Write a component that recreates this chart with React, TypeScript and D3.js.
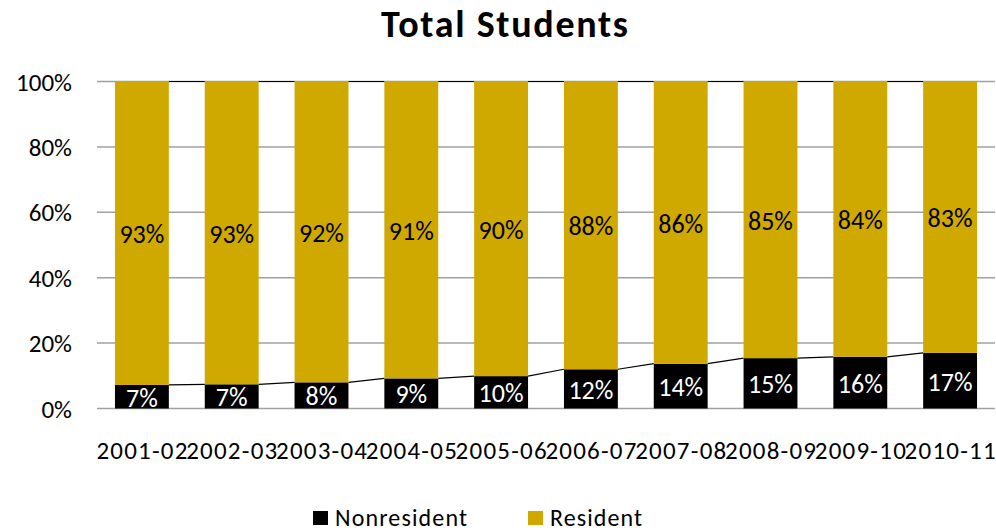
import React, { useEffect, useRef } from "react";
import * as d3 from "d3";

const years = ["2001-02", "2002-03", "2003-04", "2004-05", "2005-06", "2006-07", "2007-08", "2008-09", "2009-10", "2010-11"];
const nonresident = [7.2, 7.4, 8.0, 9.2, 9.9, 12.0, 13.7, 15.4, 15.8, 17.0];
const resident = [92.8, 92.6, 92.0, 90.8, 90.1, 88.0, 86.3, 84.6, 84.2, 83.0];
const yTicks = [0, 20, 40, 60, 80, 100];

const FONT = "Calibri, Carlito, Lato, sans-serif";
const GOLD = "#CFA800";

const App = () => {
  const svgRef = useRef<SVGSVGElement>(null);

  useEffect(() => {
    const w = 996;
    const h = 532;
    const svg = d3.select(svgRef.current).attr("width", w).attr("height", h);
    svg.selectAll("*").remove();

    // scales
    const x = d3.scaleBand().domain(years).range([97, 995]).paddingInner(0.4).paddingOuter(0.2);
    const y = d3.scaleLinear().domain([0, 100]).range([408.5, 81.5]);

    // title
    svg.append("text")
      .attr("x", 504.5).attr("y", 37)
      .attr("text-anchor", "middle")
      .attr("textLength", 247).attr("lengthAdjust", "spacing")
      .style("font-family", FONT).style("font-weight", "bold").style("font-size", "38px")
      .text("Total Students");

    // gridlines
    svg.append("g").selectAll("line").data(yTicks).join("line")
      .attr("x1", 97).attr("x2", 995)
      .attr("y1", (d) => y(d)).attr("y2", (d) => y(d))
      .attr("stroke", "#a0a0a0").attr("stroke-width", 1.5);

    // y labels
    svg.append("g").selectAll("text").data(yTicks).join("text")
      .attr("x", 72).attr("y", (d) => y(d) + 9)
      .attr("text-anchor", "end")
      .style("font-family", FONT).style("font-size", "25px")
      .text((d) => d + "%");

    const stacked = years.map((yr, i) => ({ yr, non: nonresident[i], res: resident[i] }));

    // series lines
    const seriesLines = (top: (d: any) => number) => {
      svg.append("g").selectAll("line").data(stacked.slice(0, -1)).join("line")
        .attr("x1", (d) => x(d.yr)! + x.bandwidth())
        .attr("x2", (d, i) => x(stacked[i + 1].yr)!)
        .attr("y1", (d) => y(top(d)))
        .attr("y2", (d, i) => y(top(stacked[i + 1])))
        .attr("stroke", "#000").attr("stroke-width", 1.2);
    };
    seriesLines((d) => d.non);
    seriesLines((d) => d.non + d.res);

    // bars
    svg.append("g").selectAll("rect").data(stacked).join("rect")
      .attr("x", (d) => x(d.yr)!).attr("width", x.bandwidth())
      .attr("y", (d) => y(d.non)).attr("height", (d) => y(0) - y(d.non))
      .attr("fill", "#000");
    svg.append("g").selectAll("rect").data(stacked).join("rect")
      .attr("x", (d) => x(d.yr)!).attr("width", x.bandwidth())
      .attr("y", (d) => y(d.non + d.res)).attr("height", (d) => y(d.non) - y(d.non + d.res))
      .attr("fill", GOLD);

    // value labels
    svg.append("g").selectAll("text").data(stacked).join("text")
      .attr("x", (d) => x(d.yr)! + x.bandwidth() / 2)
      .attr("y", (d) => y(d.non / 2) + 10)
      .attr("text-anchor", "middle").attr("fill", "#fff")
      .style("font-family", FONT).style("font-size", "26px")
      .text((d) => Math.round(d.non) + "%");
    svg.append("g").selectAll("text").data(stacked).join("text")
      .attr("x", (d) => x(d.yr)! + x.bandwidth() / 2)
      .attr("y", (d) => y(d.non + d.res / 2) + 10)
      .attr("text-anchor", "middle").attr("fill", "#000")
      .style("font-family", FONT).style("font-size", "26px")
      .text((d) => Math.round(d.res) + "%");

    // x labels
    svg.append("g").selectAll("text").data(years).join("text")
      .attr("x", (d) => x(d)! + x.bandwidth() / 2)
      .attr("y", 459)
      .attr("text-anchor", "middle")
      .attr("textLength", 91).attr("lengthAdjust", "spacing")
      .style("font-family", FONT).style("font-size", "25px")
      .text((d) => d);

    // legend
    const legend = [
      { name: "Nonresident", color: "#000", x: 313, len: 132 },
      { name: "Resident", color: GOLD, x: 528, len: 92 },
    ];
    const lg = svg.append("g").selectAll("g").data(legend).join("g")
      .attr("transform", (d) => `translate(${d.x},511)`);
    lg.append("rect").attr("width", 15).attr("height", 14).attr("fill", (d) => d.color);
    lg.append("text").attr("x", 22).attr("y", 15)
      .attr("textLength", (d) => d.len).attr("lengthAdjust", "spacing")
      .style("font-family", FONT).style("font-size", "24px")
      .text((d) => d.name);
  }, []);

  return (
    <div style={{ position: "absolute", left: 0, top: 0 }}>
      <svg ref={svgRef}></svg>
    </div>
  );
};

export default App;
